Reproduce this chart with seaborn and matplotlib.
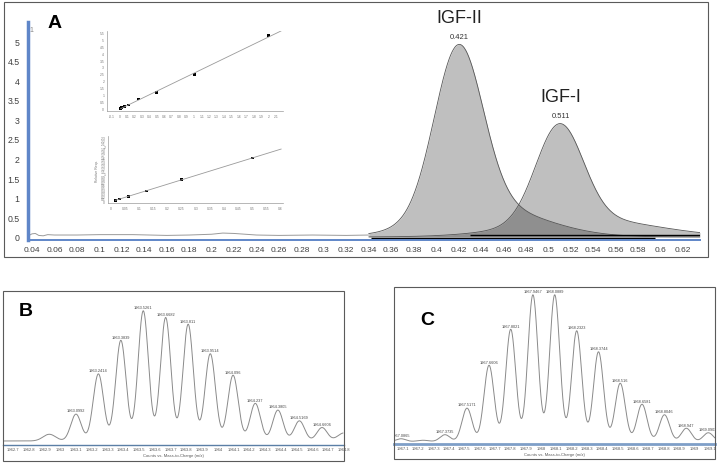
import numpy as np
import pandas as pd
import matplotlib
matplotlib.use('Agg')
import matplotlib.pyplot as plt
import matplotlib.patches as mpatches
from matplotlib.ticker import FuncFormatter
import seaborn as sns

sns.set_theme(style='white')
NARROW = ['Liberation Sans Narrow', 'Liberation Sans', 'DejaVu Sans']
ARIAL = ['Liberation Sans', 'DejaVu Sans']
plt.rcParams['font.family'] = NARROW

W, H = 719, 464

# ---- panel A: chromatogram (retention time, intensity) ----
# each peak = main component + tailing component
igf2_centers = [0.420, 0.445]
igf2_heights = [4.25, 0.75]
igf2_widths = [0.0215, 0.05]
igf1_centers = [0.510, 0.535]
igf1_heights = [2.48, 0.45]
igf1_widths = [0.021, 0.06]
peak_names = ['IGF-II', 'IGF-I']
peak_rt = [0.421, 0.511]

trace_rt = [0.036, 0.040, 0.043, 0.046, 0.050, 0.054, 0.060, 0.080, 0.100, 0.130,
            0.160, 0.180, 0.200, 0.210, 0.220, 0.240, 0.260, 0.290, 0.320, 0.340]
trace_y = [0.02, 0.08, 0.09, 0.04, 0.03, 0.06, 0.05, 0.05, 0.06, 0.06,
           0.04, 0.05, 0.07, 0.10, 0.09, 0.05, 0.04, 0.05, 0.04, 0.05]

int_start = [0.342, 0.430]
int_end = [0.595, 0.635]
int_level = [-0.02, 0.04]

# calibration insets
cal1_x = [0.0156, 0.03125, 0.0625, 0.125, 0.25, 0.5, 1.0, 2.0]
cal1_y = [0.0, 0.05, 0.12, 0.25, 0.68, 1.15, 2.43, 5.25]
cal2_x = [0.0156, 0.03125, 0.0625, 0.125, 0.25, 0.5]
cal2_y = [0.05, 0.095, 0.19, 0.38, 0.79, 1.57]

# ---- panel B: isotope envelope ----
b_mz = [1963.0992, 1963.2414, 1963.3839, 1963.5261, 1963.6682, 1963.8110,
        1963.9514, 1964.0960, 1964.2370, 1964.3805, 1964.5169, 1964.6606]
b_height = [20, 50, 75, 97, 92, 87, 65, 49, 28, 23, 15, 10]
b_bump_mz = [1962.93, 1964.80]
b_bump_h = [5, 6]
b_base = 3.0

# ---- panel C: isotope envelope ----
c_mz = [1967.0865, 1967.3735, 1967.5171, 1967.6606, 1967.8021, 1967.9467, 1968.0889,
        1968.2323, 1968.3744, 1968.5160, 1968.6581, 1968.8046, 1968.9470, 1969.0903]
c_height = [2.0, 4.7, 22.4, 51, 75, 98, 98, 74, 60, 39, 25, 18, 9, 6]
c_bump_mz = [1967.23]
c_bump_h = [1.0]
c_base = 1.5

iso_width = 0.033


def gauss_sum(x, centers, heights, widths):
    x = np.asarray(x)[:, None]
    c = np.asarray(centers)
    h = np.asarray(heights)
    w = np.asarray(widths) * np.ones_like(c)
    return (h * np.exp(-0.5 * ((x - c) / w) ** 2)).sum(axis=1)


def px_axes(fig, x0, y0, x1, y1):
    return fig.add_axes([x0 / W, 1 - y1 / H, (x1 - x0) / W, (y1 - y0) / H])


def frame(fig, x0, y0, x1, y1):
    fig.add_artist(mpatches.Rectangle((x0 / W, 1 - y1 / H), (x1 - x0) / W, (y1 - y0) / H,
                                      transform=fig.transFigure, fill=False,
                                      ec='#5a5a5a', lw=0.8))


fmt = FuncFormatter(lambda v, p: f'{v:g}')

fig = plt.figure(figsize=(W / 100, H / 100), dpi=100)
fig.patch.set_facecolor('white')

# ================= Panel A =================
frame(fig, 4, 3, 708, 258)
ax = px_axes(fig, 28, 23, 700, 241)
ax.set_facecolor('none')
ax.set_xlim(0.03644, 0.63515)
ax.set_ylim(-0.077, 5.485)

sns.lineplot(x=trace_rt, y=trace_y, ax=ax, color='#9a9a9a', lw=0.7)

rt = np.linspace(0.34, 0.63515, 700)
for cen, hei, wid in [(igf2_centers, igf2_heights, igf2_widths),
                      (igf1_centers, igf1_heights, igf1_widths)]:
    y = gauss_sum(rt, cen, hei, wid)
    ax.fill_between(rt, 0, y, color='black', alpha=0.25, lw=0)
    sns.lineplot(x=rt, y=y, ax=ax, color='#555555', lw=0.6, sort=False)

for s, e, lev in zip(int_start, int_end, int_level):
    ax.hlines(lev, s, e, color='black', lw=1.0)

for name, r, cen, hei, wid in zip(peak_names, peak_rt,
                                  [igf2_centers, igf1_centers],
                                  [igf2_heights, igf1_heights],
                                  [igf2_widths, igf1_widths]):
    top = gauss_sum([r], cen, hei, wid)[0]
    ax.annotate(f'{r:g}', (r, top), xytext=(0, 3), textcoords='offset points',
                ha='center', va='bottom', fontsize=5.5, color='#333333')
    ax.annotate(name, (r, top), xytext=(0, 13.5), textcoords='offset points',
                ha='center', va='bottom', fontsize=13, color='#222222', family=ARIAL)

ax.set_xticks(np.round(np.arange(0.04, 0.621, 0.02), 2))
ax.set_yticks(np.round(np.arange(0, 5.01, 0.5), 1))
ax.xaxis.set_major_formatter(fmt)
ax.yaxis.set_major_formatter(fmt)
ax.tick_params(axis='x', length=0, pad=4, labelsize=6, labelcolor='#404040')
ax.tick_params(axis='y', length=0, pad=6, labelsize=6.3, labelcolor='#404040')
ax.set_xlabel('')
ax.set_ylabel('')
for sp in ['top', 'right']:
    ax.spines[sp].set_visible(False)
ax.spines['left'].set_color('#5f86c8')
ax.spines['left'].set_linewidth(2.5)
ax.spines['bottom'].set_color('#5f86c8')
ax.spines['bottom'].set_linewidth(1.4)

fig.text(31 / W, 1 - 31 / H, '1', fontsize=5, color='#888888', ha='center', va='center')
fig.text(55 / W, 1 - 23 / H, 'A', fontsize=14, weight='bold', family=ARIAL,
         ha='center', va='center', color='black')


def inset(x0, y0, x1, y1, xs, ys, xlim, ylim, xt, yt, ylabel=''):
    a = px_axes(fig, x0, y0, x1, y1)
    a.set_facecolor('none')
    sns.scatterplot(x=xs, y=ys, ax=a, color='black', marker='s', s=4, edgecolor='none')
    k, b0 = np.polyfit(xs, ys, 1)
    lx = np.array([xs[0], xlim[1] - 0.01 * (xlim[1] - xlim[0])])
    sns.lineplot(x=lx, y=k * lx + b0, ax=a, color='#9a9a9a', lw=0.6)
    a.set_xlim(*xlim)
    a.set_ylim(*ylim)
    a.set_xticks(xt)
    a.set_yticks(yt)
    a.xaxis.set_major_formatter(fmt)
    a.yaxis.set_major_formatter(fmt)
    a.tick_params(length=1.2, width=0.3, pad=0.8, labelsize=2.4, colors='#8a8a8a',
                  labelcolor='#777777')
    for sp in ['top', 'right']:
        a.spines[sp].set_visible(False)
    for sp in ['left', 'bottom']:
        a.spines[sp].set_color('#9a9a9a')
        a.spines[sp].set_linewidth(0.5)
    a.set_xlabel('')
    a.set_ylabel(ylabel, fontsize=2.4, color='#777777', labelpad=1)
    return a


inset(107, 32, 283, 112, cal1_x, cal1_y, (-0.167, 2.19), (-0.19, 5.6),
      np.round(np.arange(-0.1, 2.11, 0.1), 1), np.round(np.arange(0, 5.51, 0.5), 1))
inset(108, 137, 283, 204, cal2_x, cal2_y, (-0.01, 0.608), (-0.05, 2.36),
      np.round(np.arange(0, 0.601, 0.05), 2), np.round(np.arange(0, 2.31, 0.1), 1),
      ylabel='Relative Resp.')


# ================= Panels B and C =================
def spectrum_panel(fbox, dbox, mz, heights, bump_mz, bump_h, base, xlim, ytop,
                   ticks, letter, letter_xy, axis_color, axis_lw):
    frame(fig, *fbox)
    a = px_axes(fig, *dbox)
    a.set_facecolor('none')
    x = np.linspace(xlim[0], xlim[1], 1800)
    y = base + gauss_sum(x, mz, heights, iso_width) + gauss_sum(x, bump_mz, bump_h, 0.04)
    df = pd.DataFrame({'mz': x, 'counts': y})
    sns.lineplot(data=df, x='mz', y='counts', ax=a, color='#8a8a8a', lw=0.7, sort=False)
    a.set_xlim(*xlim)
    a.set_ylim(0, ytop)
    tops = base + gauss_sum(mz, mz, heights, iso_width) + gauss_sum(mz, bump_mz, bump_h, 0.04)
    for m, t in zip(mz, tops):
        lab = f'{m:.4f}'.rstrip('0')
        a.annotate(lab, (m, t), xytext=(0, 1.2), textcoords='offset points',
                   ha='center', va='bottom', fontsize=2.8, color='#444444',
                   annotation_clip=False, clip_on=True)
    a.set_xticks(ticks)
    a.xaxis.set_major_formatter(fmt)
    a.set_yticks([])
    a.tick_params(axis='x', length=1.2, width=0.3, pad=0.6, labelsize=3,
                  colors='#8a8a8a', labelcolor='#555555')
    for sp in ['top', 'right', 'left']:
        a.spines[sp].set_visible(False)
    a.spines['bottom'].set_color(axis_color)
    a.spines['bottom'].set_linewidth(axis_lw)
    a.set_ylabel('')
    a.set_xlabel('Counts vs. Mass-to-Charge (m/z)', fontsize=3, color='#555555', labelpad=1)
    fig.text(letter_xy[0] / W, 1 - letter_xy[1] / H, letter, fontsize=14, weight='bold',
             family=ARIAL, ha='center', va='center', color='black')
    return a


spectrum_panel((3, 292, 344, 462), (3, 293, 344, 446), b_mz, b_height, b_bump_mz, b_bump_h,
               b_base, (1962.636, 1964.794), 114,
               np.round(np.arange(1962.7, 1964.81, 0.1), 1), 'B', (26, 312), '#5b7fa6', 1.0)
spectrum_panel((394, 288, 715, 460), (394, 288, 715, 445), c_mz, c_height, c_bump_mz, c_bump_h,
               c_base, (1967.041, 1969.134), 104.7,
               np.round(np.arange(1967.1, 1969.11, 0.1), 1), 'C', (427, 321), '#7f9fc8', 2.0)

fig.savefig('out.png', dpi=100, facecolor='white')
